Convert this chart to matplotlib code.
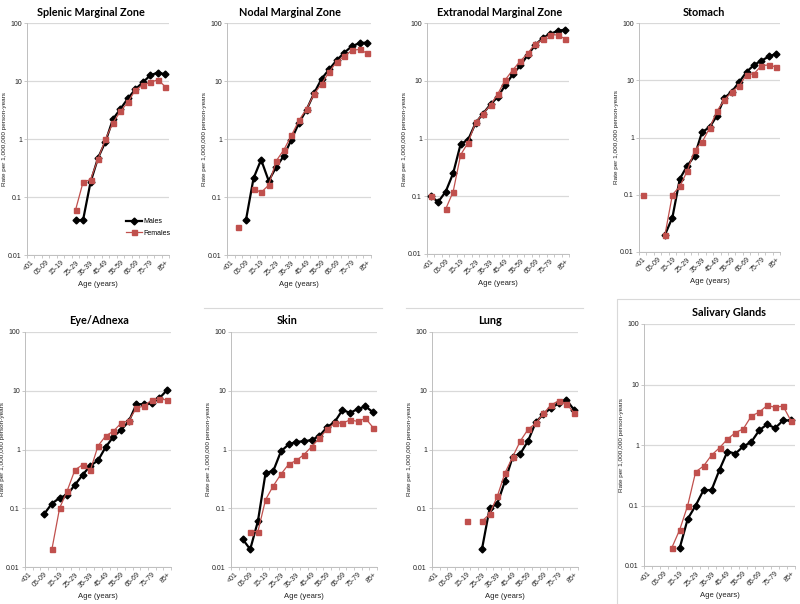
import matplotlib
matplotlib.use("Agg")
import matplotlib.pyplot as plt
import numpy as np

nan = np.nan

ages = ["<01", "01-04", "05-09", "10-14", "15-19", "20-24", "25-29", "30-34",
        "35-39", "40-44", "45-49", "50-54", "55-59", "60-64", "65-69", "70-74",
        "75-79", "80-84", "85+"]

titles = ["Splenic Marginal Zone", "Nodal Marginal Zone", "Extranodal Marginal Zone",
          "Stomach", "Eye/Adnexa", "Skin", "Lung", "Salivary Glands"]

splenic_m = [nan] * 6 + [0.04, 0.04, 0.18, 0.47, 0.9, 2.2, 3.3, 5.0, 7.2, 9.5, 12.5, 14, 13]
splenic_f = [nan] * 6 + [0.06, 0.18, 0.2, 0.45, 1.0, 1.9, 3.0, 4.3, 7.0, 8.5, 9.5, 10.5, 8.0]

nodal_m = [nan, nan, 0.04, 0.21, 0.44, 0.19, 0.33, 0.51, 0.98, 1.9, 3.2, 6.2, 11, 16, 23, 31, 40, 45, 46]
nodal_f = [nan, 0.03, nan, 0.14, 0.12, 0.16, 0.42, 0.65, 1.15, 2.1, 3.3, 6.0, 9.0, 14.5, 21.5, 27, 34, 35, 30]

extra_m = [0.1, 0.08, 0.12, 0.25, 0.8, 0.95, 1.85, 2.7, 3.9, 5.3, 8.5, 13, 18.5, 28, 42, 55, 65, 73, 77]
extra_f = [0.1, nan, 0.06, 0.12, 0.52, 0.85, 1.9, 2.7, 3.8, 6.0, 10.5, 15.5, 22, 30, 44, 52, 63, 62, 53]

stomach_m = [nan, nan, nan, 0.02, 0.04, 0.19, 0.32, 0.48, 1.25, 1.5, 2.4, 4.9, 6.3, 9.3, 14, 18.5, 22, 26, 29]
stomach_f = [0.1, nan, nan, 0.02, 0.1, 0.14, 0.26, 0.6, 0.83, 1.45, 2.9, 4.5, 6.3, 8.0, 12.5, 13, 18, 18.5, 17]

eye_m = [nan, nan, 0.08, 0.12, 0.15, 0.17, 0.25, 0.37, 0.53, 0.65, 1.1, 1.65, 2.15, 3.0, 5.9, 5.9, 6.1, 7.5, 10.3]
eye_f = [nan, nan, nan, 0.02, 0.1, 0.2, 0.45, 0.55, 0.44, 1.15, 1.7, 2.05, 2.8, 3.1, 5.1, 5.5, 7.0, 7.2, 7.0]

skin_m = [nan, 0.03, 0.02, 0.06, 0.4, 0.43, 0.93, 1.22, 1.35, 1.38, 1.45, 1.7, 2.4, 2.95, 4.7, 4.2, 4.9, 5.4, 4.3]
skin_f = [nan, nan, 0.04, 0.04, 0.14, 0.24, 0.38, 0.56, 0.65, 0.82, 1.12, 1.55, 2.2, 2.8, 2.8, 3.2, 3.0, 3.4, 2.35]

lung_m = [nan] * 6 + [0.02, 0.1, 0.12, 0.29, 0.75, 0.85, 1.4, 2.9, 4.0, 5.1, 6.1, 7.0, 4.7]
lung_f = [nan] * 4 + [0.06, nan, 0.06, 0.08, 0.16, 0.4, 0.75, 1.4, 2.2, 2.8, 4.1, 5.7, 6.8, 6.0, 4.2]

sal_m = [nan] * 4 + [0.02, 0.06, 0.1, 0.18, 0.18, 0.39, 0.78, 0.72, 0.95, 1.12, 1.75, 2.2, 1.9, 2.55, 2.55]
sal_f = [nan] * 3 + [0.02, 0.04, 0.1, 0.36, 0.45, 0.68, 0.9, 1.25, 1.6, 1.85, 3.0, 3.5, 4.5, 4.2, 4.4, 2.5]

males = [splenic_m, nodal_m, extra_m, stomach_m, eye_m, skin_m, lung_m, sal_m]
females = [splenic_f, nodal_f, extra_f, stomach_f, eye_f, skin_f, lung_f, sal_f]

# axes boxes in pixels: left, top, right, bottom
W, H = 800, 604
boxes = [(27, 23, 169, 255), (227, 23, 371, 255), (427, 23, 569, 254), (639, 23, 780, 252),
         (25, 332, 171, 567), (231, 332, 377, 567), (432, 332, 578, 567), (644, 324, 795, 566)]
title_pos = [(91, 12), (290, 12), (500, 12), (704, 12),
             (99, 321), (287, 321), (490, 321), (729, 312)]

RED = "#C0504D"
tick_font = {"family": "Liberation Sans", "size": 5.0, "color": "#222222"}

fig = plt.figure(figsize=(8, 6.04), dpi=100)

for k in range(8):
    l, t, r, b = boxes[k]
    ax = fig.add_axes([l / W, 1 - b / H, (r - l) / W, (b - t) / H])
    x = np.arange(len(ages))
    ax.plot(x, males[k], color="black", lw=1.6, marker="D", ms=3.5, label="Males", zorder=3)
    ax.plot(x, females[k], color=RED, lw=0.9, marker="s", ms=3.6, label="Females", zorder=4)
    ax.set_yscale("log")
    ax.set_ylim(0.01, 100)
    ax.set_xlim(-0.5, len(ages) - 0.5)
    ax.set_yticks([0.01, 0.1, 1, 10, 100])
    ax.set_yticklabels(["0.01", "0.1", "1", "10", "100"], fontdict=tick_font)
    ax.yaxis.set_minor_locator(matplotlib.ticker.NullLocator())
    ax.grid(axis="y", color="#D9D9D9", lw=0.9)
    ax.set_axisbelow(True)
    ax.set_xticks(x[::2])
    ax.set_xticklabels(ages[::2], rotation=45, ha="right", rotation_mode="anchor", fontdict=tick_font)
    ax.set_xticks(np.arange(-0.5, len(ages)), minor=True)
    ax.tick_params(axis="x", which="major", length=0, pad=3)
    ax.tick_params(axis="x", which="minor", length=2.2, color="#BFBFBF", width=0.6)
    ax.tick_params(axis="y", which="major", length=2.2, color="#BFBFBF", width=0.6, pad=1.5)
    for s in ["top", "right"]:
        ax.spines[s].set_visible(False)
    for s in ["left", "bottom"]:
        ax.spines[s].set_color("#BFBFBF")
        ax.spines[s].set_linewidth(0.7)
    ax.set_xlabel("Age (years)", fontsize=5.5, family="Liberation Sans", color="#222222", labelpad=3)
    ax.set_ylabel("Rate per 1,000,000 person-years", fontsize=4.6, family="Liberation Sans",
                  color="#222222", labelpad=1)
    tx, ty = title_pos[k]
    fig.text(tx / W, 1 - ty / H, titles[k], ha="center", va="center",
             fontsize=7.8, fontweight="bold", family="Lato")
    if k == 0:
        ax.legend(loc="upper left", bbox_to_anchor=(0.68, 0.17), frameon=False,
                  prop={"family": "Liberation Sans", "size": 5.0}, handlelength=2.2,
                  handletextpad=0.2, labelspacing=0.6, borderaxespad=0)

# panel separator lines
sep_col = "#D9D9D9"
fig.add_artist(plt.Line2D([204 / W, 382 / W], [1 - 308 / H, 1 - 308 / H], color=sep_col, lw=0.8))
fig.add_artist(plt.Line2D([406 / W, 583 / W], [1 - 308 / H, 1 - 308 / H], color=sep_col, lw=0.8))
fig.add_artist(plt.Line2D([617 / W, 617 / W, 800 / W], [0, 1 - 299 / H, 1 - 299 / H], color=sep_col, lw=0.8))

fig.savefig("out.png", dpi=100)
